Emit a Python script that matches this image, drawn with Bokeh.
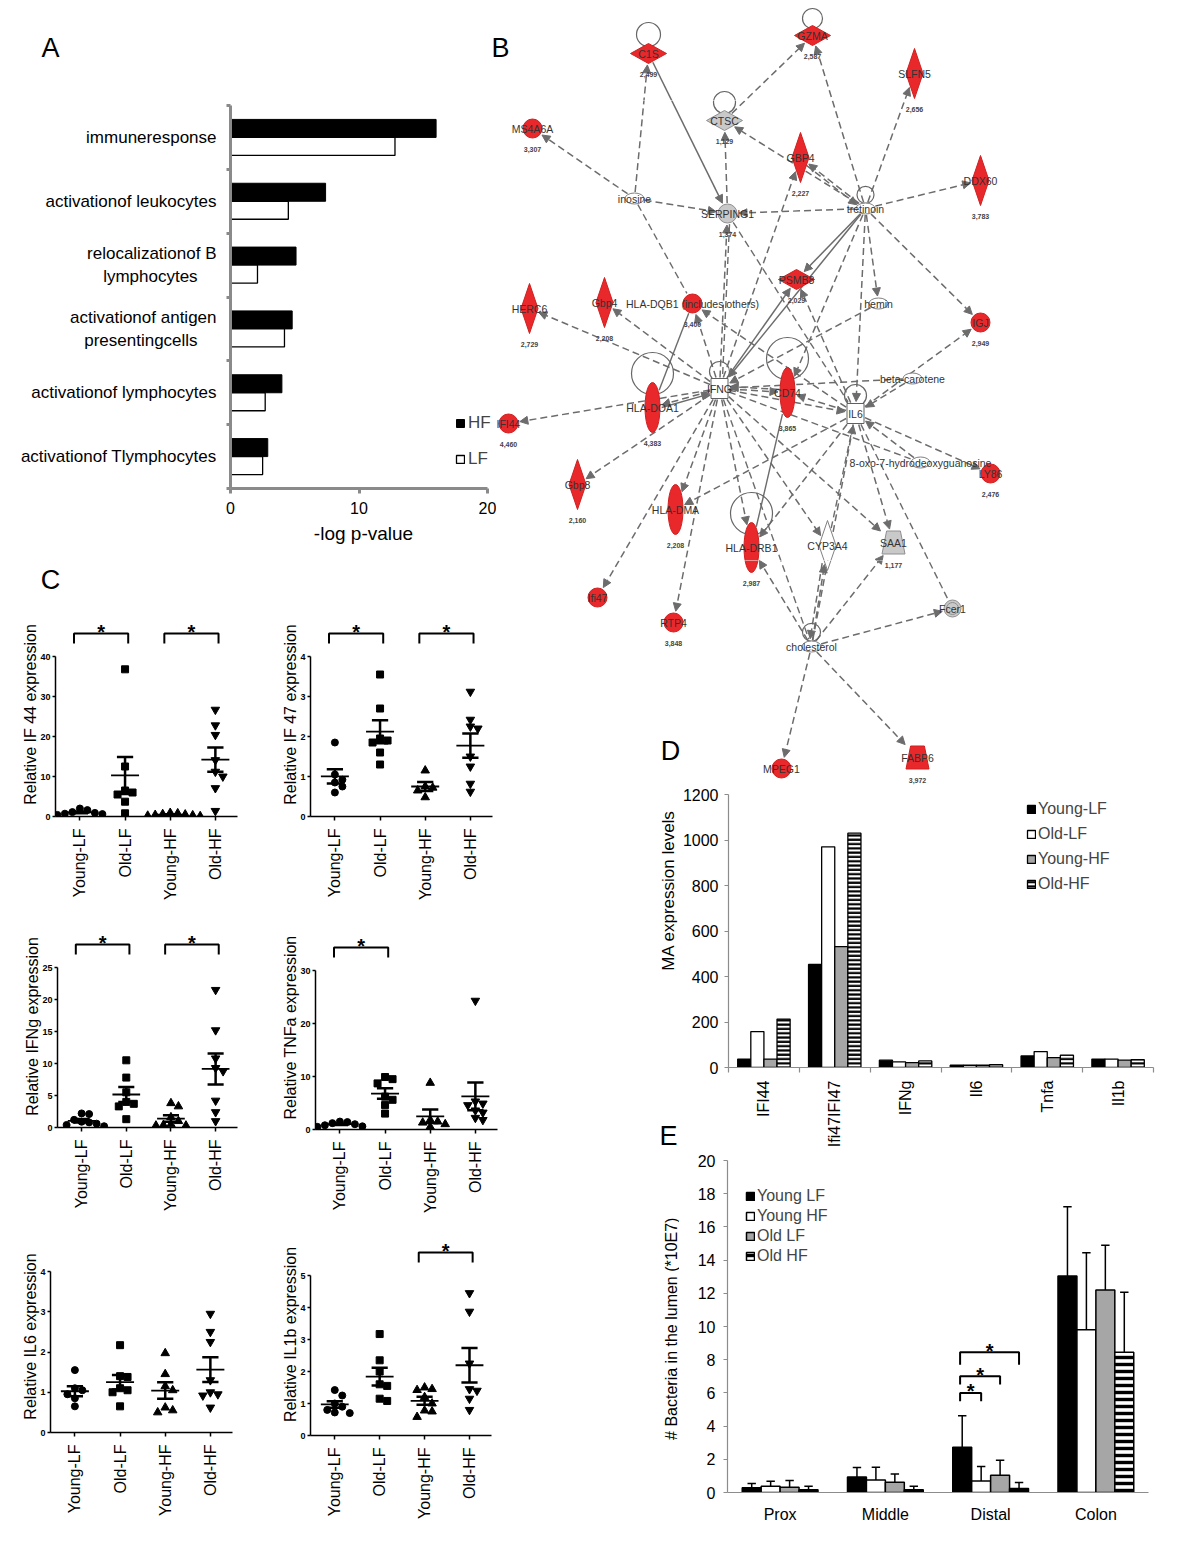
import numpy as np
from math import pi, sqrt
from bokeh.plotting import figure
from bokeh.models import (Range1d, FixedTicker, Legend, LegendItem, Label, Arrow,
                          NormalHead, ColumnDataSource)
from bokeh.layouts import row, column
from bokeh.embed import file_html
from bokeh.resources import INLINE
from bokeh.core.properties import value

FONT = "Liberation Sans"
FV = value(FONT)

# ======================= DATA =======================
# Panel A : enriched functions (-log p-value)
a_terms = ["immuneresponse", "activationof leukocytes",
           "relocalizationof B\nlymphocytes", "activationof antigen\npresentingcells",
           "activationof lymphocytes", "activationof Tlymphocytes"]
a_hf = [16.0, 7.4, 5.1, 4.8, 4.0, 2.9]
a_lf = [12.8, 4.5, 2.1, 4.2, 2.7, 2.5]
a_xticks = [0, 10, 20]

# Panel B : network (names, labels, fold values, node kind)
b_names = ["C1S", "GZMA", "SLFN5", "MS4A6A", "CTSC", "GBP4", "DDX60", "inosine", "SERPING1",
           "tretinoin", "PSMB8", "hemin", "HERC6", "Gbp4", "HLA-DQB1", "IGJ", "beta-carotene",
           "HLA-DOA1", "IFNG", "CD74", "IL6", "IFI44", "Gbp8", "8-oxo", "LY86", "HLA-DMA",
           "HLA-DRB1", "CYP3A4", "SAA1", "Ifi47", "RTP4", "Fcer1", "cholesterol", "MPEG1", "FABP6"]
b_labels = ["C1S", "GZMA", "SLFN5", "MS4A6A", "CTSC", "GBP4", "DDX60", "inosine", "SERPING1",
            "tretinoin", "PSMB8", "hemin", "HERC6", "Gbp4", "HLA-DQB1 (includes others)", "IGJ",
            "beta-carotene", "HLA-DOA1", "IFNG", "CD74", "IL6", "IFI44", "Gbp8",
            "8-oxo-7-hydrodeoxyguanosine", "LY86", "HLA-DMA", "HLA-DRB1", "CYP3A4", "SAA1",
            "Ifi47", "RTP4", "Fcer1", "cholesterol", "MPEG1", "FABP6"]
b_values = ["2,499", "2,587", "2,656", "3,307", "1,129", "2,227", "3,783", "", "1,374",
            "", "2,029", "", "2,729", "2,208", "3,400", "2,949", "",
            "4,383", "", "3,865", "", "4,460", "2,160", "", "2,476", "2,208",
            "2,987", "", "1,177", "", "3,848", "", "", "2,420", "3,972"]
b_kind = ["r", "r", "r", "r", "g", "r", "r", "w", "g",
          "w", "r", "w", "r", "r", "r", "r", "w",
          "r", "w", "r", "w", "r", "r", "w", "r", "r",
          "r", "w", "g", "r", "r", "g", "w", "r", "r"]
b_edges = [("inosine", "C1S", "d"), ("inosine", "MS4A6A", "d"), ("inosine", "SERPING1", "d"),
           ("inosine", "HLA-DQB1", "dn"), ("C1S", "SERPING1", "s"), ("CTSC", "GZMA", "d"),
           ("SERPING1", "CTSC", "d"), ("tretinoin", "GZMA", "d"), ("tretinoin", "SLFN5", "d"),
           ("tretinoin", "DDX60", "d"), ("tretinoin", "CTSC", "d"), ("tretinoin", "GBP4", "d"),
           ("GBP4", "tretinoin", "d"), ("tretinoin", "SERPING1", "d"), ("tretinoin", "PSMB8", "s"),
           ("tretinoin", "IGJ", "d"), ("tretinoin", "hemin", "d"), ("tretinoin", "IL6", "d"),
           ("tretinoin", "IFNG", "s"), ("tretinoin", "CD74", "d"), ("IFNG", "SERPING1", "d"),
           ("SERPING1", "IFNG", "dn"), ("IFNG", "GBP4", "d"), ("IFNG", "PSMB8", "s"),
           ("IFNG", "Gbp4", "d"), ("IFNG", "HERC6", "d"), ("IFNG", "HLA-DQB1", "d"),
           ("HLA-DQB1", "HLA-DOA1", "sn"), ("SERPING1", "IL6", "dn"), ("IL6", "PSMB8", "d"),
           ("hemin", "IFNG", "d"), ("IL6", "HLA-DQB1", "d"), ("IL6", "IGJ", "d"),
           ("beta-carotene", "IL6", "d"), ("beta-carotene", "IFNG", "d"), ("IFNG", "HLA-DOA1", "d"),
           ("HLA-DOA1", "IFNG", "s"), ("IFNG", "IFI44", "d"), ("IFNG", "Gbp8", "d"),
           ("IFNG", "Ifi47", "d"), ("IFNG", "RTP4", "d"), ("IFNG", "HLA-DMA", "d"),
           ("IFNG", "HLA-DRB1", "d"), ("IFNG", "CYP3A4", "d"), ("IFNG", "SAA1", "d"),
           ("IFNG", "CD74", "d"), ("CD74", "IFNG", "d"), ("IFNG", "IL6", "d"),
           ("IL6", "HLA-DMA", "d"), ("IL6", "HLA-DRB1", "d"), ("IL6", "CYP3A4", "dn"),
           ("IL6", "SAA1", "d"), ("IL6", "CD74", "d"), ("IL6", "LY86", "d"), ("8-oxo", "IL6", "d"),
           ("IL6", "Fcer1", "dn"), ("HLA-DRB1", "CD74", "sn"), ("cholesterol", "HLA-DRB1", "d"),
           ("cholesterol", "IL6", "d"), ("cholesterol", "SAA1", "d"), ("cholesterol", "Fcer1", "d"),
           ("cholesterol", "CYP3A4", "d"), ("CYP3A4", "cholesterol", "d"),
           ("cholesterol", "MPEG1", "d"), ("cholesterol", "FABP6", "d"),
           ("IFNG", "cholesterol", "dn"), ("IFNG", "8-oxo", "dn")]
b_selfloops = ["C1S", "GZMA", "CTSC", "tretinoin", "HLA-DOA1", "IFNG", "CD74", "IL6",
               "HLA-DRB1", "cholesterol"]

# Panel C : relative expression, groups Young-LF, Old-LF, Young-HF, Old-HF
c_groups = ["Young-LF", "Old-LF", "Young-HF", "Old-HF"]
c_titles = ["Relative IF 44 expression", "Relative IF 47 expression",
            "Relative IFNg expression", "Relative TNFa expression",
            "Relative IL6 expression", "Relative IL1b expression"]
c_if44 = [[1.6, 0.9, 0.6, 0.4, 1.1, 0.7, 2.0],
          [36.8, 12.5, 6.5, 5.5, 6.0, 3.7, 0.8],
          [0.3, 0.5, 0.2, 0.8, 0.6, 0.4, 0.1, 0.9],
          [26.7, 22.8, 20.4, 14.1, 11.2, 10.0, 7.1, 1.4]]
c_if47 = [[1.85, 1.05, 0.92, 0.85, 0.75, 0.6],
          [3.55, 2.7, 1.95, 1.9, 1.85, 1.6, 1.3],
          [1.15, 0.75, 0.72, 0.65, 0.48],
          [3.12, 2.42, 2.25, 2.2, 1.5, 1.25, 0.82, 0.62]]
c_ifng = [[2.2, 2.1, 1.2, 0.9, 0.6, 0.4, 0.2, 0.8],
          [10.5, 7.8, 5.5, 4.0, 3.7, 3.3, 1.3],
          [3.8, 3.3, 1.6, 1.0, 0.5, 0.3, 0.4, 0.3],
          [21.5, 15.2, 10.8, 9.3, 8.8, 4.2, 2.4, 1.0]]
c_tnfa = [[1.5, 1.2, 1.0, 0.8, 0.6, 0.5, 1.4],
          [9.9, 9.5, 8.7, 6.2, 5.6, 4.6, 3.0],
          [8.8, 1.8, 1.5, 1.3, 1.0, 0.5],
          [24.3, 5.3, 4.9, 4.6, 3.6, 3.2, 2.2, 1.8]]
c_il6 = [[1.55, 1.1, 1.05, 0.95, 0.85, 0.65],
         [2.17, 1.4, 1.38, 1.1, 1.05, 1.0, 0.65],
         [1.97, 1.45, 1.15, 1.05, 0.62, 0.55, 0.5],
         [2.95, 2.5, 2.25, 1.3, 1.0, 0.95, 0.92, 0.62]]
c_il1b = [[1.42, 1.25, 1.0, 0.9, 0.8, 0.72, 0.7],
          [3.17, 2.35, 2.0, 1.6, 1.55, 1.15, 1.08],
          [1.5, 1.45, 1.42, 1.2, 1.0, 0.78, 0.75, 0.58],
          [4.45, 3.87, 2.25, 1.45, 1.4, 1.15, 0.8]]
c_ymax = [40, 4, 25, 30, 4, 5]
c_ystep = [10, 1, 5, 10, 1, 1]
c_sig = [[(0, 1), (2, 3)], [(0, 1), (2, 3)], [(0, 1), (2, 3)], [(0, 1)], [], [(2, 3)]]

# Panel D : microarray expression levels
d_genes = ["IFI44", "Ifi47IFI47", "IFNg", "Il6", "Tnfa", "Il1b"]
d_series = ["Young-LF", "Old-LF", "Young-HF", "Old-HF"]
d_young_lf = [37, 453, 32, 10, 51, 37]
d_old_lf = [158, 970, 25, 10, 70, 37]
d_young_hf = [37, 531, 21, 10, 43, 32]
d_old_hf = [213, 1030, 29, 12, 54, 34]
d_yticks = [0, 200, 400, 600, 800, 1000, 1200]

# Panel E : bacteria in the lumen (*10E7), mean and SD
e_sections = ["Prox", "Middle", "Distal", "Colon"]
e_series = ["Young LF", "Young HF", "Old LF", "Old HF"]
e_young_lf = [0.28, 0.94, 2.73, 13.04]
e_young_lf_err = [0.26, 0.56, 1.90, 4.17]
e_young_hf = [0.38, 0.76, 0.70, 9.81]
e_young_hf_err = [0.30, 0.76, 0.86, 4.63]
e_old_lf = [0.32, 0.62, 1.04, 12.20]
e_old_lf_err = [0.40, 0.50, 0.91, 2.70]
e_old_hf = [0.16, 0.16, 0.24, 8.45]
e_old_hf_err = [0.22, 0.22, 0.36, 3.61]
e_sig_section = 2
e_sig_pairs = [(0, 1), (0, 2), (0, 3)]
e_yticks = [0, 2, 4, 6, 8, 10, 12, 14, 16, 18, 20]


# ======================= HELPERS =======================
def make_fig(w, h, xr, yr, left, right, top, bottom, axes=True):
    kw = dict(width=w, height=h, x_range=xr, y_range=yr, output_backend="svg",
              toolbar_location=None, min_border_left=left, min_border_right=right,
              min_border_top=top, min_border_bottom=bottom)
    if not axes:
        kw.update(x_axis_location=None, y_axis_location=None)
    p = figure(**kw)
    p.grid.visible = False
    p.outline_line_color = None
    p.background_fill_color = "white"
    p.border_fill_color = "white"
    return p


def canvas_fig(x0, x1, y0, y1):
    # figure whose frame is the whole canvas, using page pixel coordinates
    return make_fig(x1 - x0, y1 - y0, Range1d(x0, x1), Range1d(y1, y0), 0, 0, 0, 0, axes=False)


def style_axis(ax, color="black", lw=1.0, size="16px"):
    ax.axis_line_color = color
    ax.axis_line_width = lw
    ax.major_tick_line_color = color
    ax.major_tick_line_width = lw
    ax.minor_tick_line_color = color
    ax.minor_tick_line_width = lw
    ax.major_tick_in = 0
    ax.minor_tick_in = 0
    ax.minor_tick_out = 0
    ax.major_label_text_font = FONT
    ax.major_label_text_font_size = size
    ax.major_label_text_color = "black"
    ax.axis_label_text_font = FONT
    ax.axis_label_text_font_style = "normal"
    ax.axis_label_text_color = "black"


def add_label(p, x, y, t, size="27px", angle=0.0):
    p.add_layout(Label(x=x, y=y, text=t, text_font=FONT, text_font_size=size, angle=angle,
                       text_align="center", text_baseline="middle", text_color="black"))


def swarm(ypx, d):
    order = np.argsort(-ypx)
    placed = []
    offs = np.zeros(len(ypx))
    for i in order:
        k = 0
        while True:
            cand = 0.0 if k == 0 else ((k + 1) // 2) * d * (1 if k % 2 else -1)
            if all((cand - px) ** 2 + (ypx[i] - py) ** 2 >= 0.8 * d * d for px, py in placed):
                break
            k += 1
        placed.append((cand, ypx[i]))
        offs[i] = cand
    return offs


def box(p):
    return column(p)


# ======================= PANEL A =======================
# page geometry: frame x 230..(487 = value 20), y 105..488 ; figure at (0,100), 496x460
ppx_a = (487 - 230) / 20.0
ppy_a = (488 - 105) / 6.0
pA = make_fig(496, 460, Range1d(0, 20 + 9 / ppx_a), Range1d(0, 6), 230, 0, 5, 72)
yc = [len(a_terms) - 0.5 - i for i in range(len(a_terms))]
bh = 18.0 / ppy_a
r_hf = pA.hbar(y=[c + bh / 2 for c in yc], left=0, right=a_hf, height=bh,
               fill_color="black", line_color="black", line_width=1)
r_lf = pA.hbar(y=[c - bh / 2 for c in yc], left=0, right=a_lf, height=bh,
               fill_color="white", line_color="black", line_width=1.3)
xa = pA.xaxis[0]
style_axis(xa, "#8a8a8a", 3, "16px")
xa.ticker = FixedTicker(ticks=a_xticks)
xa.bounds = (0, 20)
xa.major_tick_out = 5
xa.major_label_standoff = 8
xa.axis_label = "-log p-value"
xa.axis_label_text_font_size = "19px"
xa.axis_label_standoff = 6
ya = pA.yaxis[0]
style_axis(ya, "#8a8a8a", 3, "17px")
ya.ticker = FixedTicker(ticks=yc, minor_ticks=list(range(len(a_terms) + 1)))
ya.major_tick_out = 0
ya.minor_tick_out = 4
ya.major_label_standoff = 10
ov = {}
for c, t in zip(yc, a_terms):
    if "\n" in t:
        l1, l2 = t.split("\n")
        t = l1 + "\n" + l2 + "\u00a0" * 4
    ov[c] = t
ya.major_label_overrides = ov
legA = Legend(items=[LegendItem(label="HF", renderers=[r_hf]),
                     LegendItem(label="LF", renderers=[r_lf])],
              location=(225, 19), glyph_width=10, glyph_height=10, label_text_font=FONT,
              label_text_font_size="17px", spacing=16, padding=0, margin=0, label_standoff=3,
              background_fill_alpha=0, border_line_alpha=0)
pA.add_layout(legA)

# ======================= PANEL B =======================
node_x = [648, 812, 914, 532, 724, 800, 980, 634, 727, 865, 796, 878, 529, 604, 692, 980, 912,
          652, 719, 787, 855, 508, 577, 920, 990, 675, 751, 827, 893, 597, 673, 952, 811, 781, 917]
node_y = [53, 35, 73, 128, 120, 157, 180, 198, 213, 208, 279, 303, 308, 302, 303, 322, 378,
          407, 388, 392, 413, 423, 484, 462, 473, 509, 547, 545, 542, 597, 622, 608, 646, 768, 757]
node_shape = ["dw", "dw", "dt", "c", "dw", "dt", "dt", "ov", "c",
              "ov", "dw", "ov", "dt", "dt", "c", "c", "ov",
              "e", "sq", "e", "sq", "c", "dt", "ov", "c", "e",
              "e", "dt", "tz", "c", "c", "c2", "ov", "c", "tz"]
SHAPE_SIZE = {"dw": (18, 10), "dt": (8.5, 25), "c": (9.5, 9.5), "c2": (8.5, 8.5),
              "e": (7.5, 25), "sq": (8.5, 10), "ov": (9.5, 5.5), "tz": (11.5, 11.5)}
LOOP_R = {"C1S": 12, "GZMA": 10, "CTSC": 11, "tretinoin": 8.5, "HLA-DOA1": 21, "IFNG": 10,
          "CD74": 21, "IL6": 11, "HLA-DRB1": 21, "cholesterol": 9}
FILL = {"r": "#e8282b", "g": "#c9c9c9", "w": "white"}
LINE = {"r": "#cf2020", "g": "#8f8f8f", "w": "#808080"}
EC = "#6c6c6c"


def bdist(shape, ux, uy):
    hw, hh = SHAPE_SIZE[shape]
    ax_, ay_ = abs(ux) + 1e-9, abs(uy) + 1e-9
    if shape in ("c", "e", "c2", "ov"):
        return 1.0 / sqrt((ax_ / hw) ** 2 + (ay_ / hh) ** 2)
    if shape in ("dw", "dt"):
        return 1.0 / (ax_ / hw + ay_ / hh)
    return 1.0 / max(ax_ / hw, ay_ / hh)


def draw_network(p, x0r, x1r, y0r, y1r):
    idx = {n: i for i, n in enumerate(b_names)}
    pair_count = {}
    groups = {"d": ([], [], [], []), "s": ([], [], [], []), "dn": ([], [], [], []), "sn": ([], [], [], [])}
    for a, b, st in b_edges:
        i, j = idx[a], idx[b]
        key = tuple(sorted((a, b)))
        n = pair_count.get(key, 0)
        pair_count[key] = n + 1
        xa0, ya0, xa1, ya1 = node_x[i], node_y[i], node_x[j], node_y[j]
        L = sqrt((xa1 - xa0) ** 2 + (ya1 - ya0) ** 2)
        ux, uy = (xa1 - xa0) / L, (ya1 - ya0) / L
        off = 0.0 if n == 0 else (2.5 if n % 2 else -2.5)
        if a > b:
            off = -off
        ox, oy = -uy * off, ux * off
        d0 = bdist(node_shape[i], ux, uy) + 1
        d1 = bdist(node_shape[j], ux, uy) + 2
        g = groups[st]
        g[0].append(xa0 + ux * d0 + ox)
        g[1].append(ya0 + uy * d0 + oy)
        g[2].append(xa1 - ux * d1 + ox)
        g[3].append(ya1 - uy * d1 + oy)
    for st, dash in (("d", "7 4"), ("s", "solid")):
        g = groups[st]
        src = ColumnDataSource(dict(x0=g[0], y0=g[1], x1=g[2], y1=g[3]))
        p.add_layout(Arrow(x_start="x0", y_start="y0", x_end="x1", y_end="y1", source=src,
                           line_color=EC, line_width=1.5, line_dash=dash, level="underlay",
                           end=NormalHead(size=8, fill_color=EC, line_color=EC, line_width=1)))
    for st, dash in (("dn", "7 4"), ("sn", "solid")):
        g = groups[st]
        p.segment(x0=g[0], y0=g[1], x1=g[2], y1=g[3], line_color=EC, line_width=1.4,
                  line_dash=dash, level="underlay")
    lx, ly, lr = [], [], []
    for n in b_selfloops:
        i = idx[n]
        r = LOOP_R[n]
        hh = SHAPE_SIZE[node_shape[i]][1]
        lx.append(node_x[i])
        ly.append(node_y[i] - (r + 0.4 * hh + 3))
        lr.append(2 * r)
    p.ellipse(x=lx, y=ly, width=lr, height=lr, fill_color=None, line_color="#666666", line_width=1.2)
    for shp in ("c", "e", "c2", "ov"):
        ii = [i for i, s in enumerate(node_shape) if s == shp]
        hw, hh = SHAPE_SIZE[shp]
        p.ellipse(x=[node_x[i] for i in ii], y=[node_y[i] for i in ii], width=2 * hw, height=2 * hh,
                  fill_color=[FILL[b_kind[i]] for i in ii], line_color=[LINE[b_kind[i]] for i in ii],
                  line_width=1)
        if shp == "c2":
            p.ellipse(x=[node_x[i] for i in ii], y=[node_y[i] for i in ii], width=2 * hw - 5,
                      height=2 * hh - 5, fill_color=None, line_color="#8f8f8f", line_width=1)
    for shp in ("dw", "dt"):
        ii = [i for i, s in enumerate(node_shape) if s == shp]
        hw, hh = SHAPE_SIZE[shp]
        xs = [[node_x[i] - hw, node_x[i], node_x[i] + hw, node_x[i]] for i in ii]
        ys = [[node_y[i], node_y[i] - hh, node_y[i], node_y[i] + hh] for i in ii]
        p.patches(xs, ys, fill_color=[FILL[b_kind[i]] for i in ii],
                  line_color=[LINE[b_kind[i]] for i in ii], line_width=1)
    ii = [i for i, s in enumerate(node_shape) if s == "sq"]
    hw, hh = SHAPE_SIZE["sq"]
    p.rect(x=[node_x[i] for i in ii], y=[node_y[i] for i in ii], width=2 * hw, height=2 * hh,
           fill_color="white", line_color="#606060", line_width=1)
    ii = [i for i, s in enumerate(node_shape) if s == "tz"]
    hw, hh = SHAPE_SIZE["tz"]
    xs = [[node_x[i] - 0.6 * hw, node_x[i] + 0.6 * hw, node_x[i] + hw, node_x[i] - hw] for i in ii]
    ys = [[node_y[i] - hh, node_y[i] - hh, node_y[i] + hh, node_y[i] + hh] for i in ii]
    p.patches(xs, ys, fill_color=[FILL[b_kind[i]] for i in ii],
              line_color=[LINE[b_kind[i]] for i in ii], line_width=1)
    # texts only where they belong to this canvas
    inside = lambda x, y: x0r <= x < x1r and y0r <= y < y1r
    li = [i for i in range(len(b_names)) if inside(node_x[i], node_y[i])]
    if li:
        p.text(x=[node_x[i] for i in li], y=[node_y[i] for i in li], text=[b_labels[i] for i in li],
               text_align="center", text_baseline="middle", text_font=FV,
               text_font_size="10.5px", text_color="#333333")
    vi = [i for i, v in enumerate(b_values)
          if v and inside(node_x[i], node_y[i] + SHAPE_SIZE[node_shape[i]][1] + 11)]
    if vi:
        p.text(x=[node_x[i] for i in vi],
               y=[node_y[i] + SHAPE_SIZE[node_shape[i]][1] + 11 for i in vi],
               text=[b_values[i] for i in vi], text_align="center", text_baseline="middle",
               text_font=FV, text_font_size="7px", text_font_style="bold", text_color="#444444")


pTop = canvas_fig(0, 1196, 0, 100)
draw_network(pTop, 0, 1196, 0, 100)
add_label(pTop, 50, 47, "A")
add_label(pTop, 500, 47, "B")
pB1 = canvas_fig(496, 1196, 100, 560)
draw_network(pB1, 496, 1196, 100, 560)
pB2 = canvas_fig(500, 1196, 560, 785)
draw_network(pB2, 500, 1196, 560, 785)
add_label(pB2, 670, 750, "D")
pCs = canvas_fig(0, 500, 560, 605)
add_label(pCs, 50, 579, "C")

# ======================= PANEL C =======================
c_data = [c_if44, c_if47, c_ifng, c_tnfa, c_il6, c_il1b]
c_markers = ["circle", "square", "triangle", "inverted_triangle"]
c_msize = [7, 7, 8.5, 8.5]
# (fig x0, fig y0, w, h, frame left, frame right, frame top, y(0) px, y(top tick) px)
c_geom = [(0, 605, 262, 315, 55, 237, 612, 816, 656),
          (262, 605, 238, 315, 310, 492, 612, 816, 656),
          (0, 920, 262, 312, 57, 237, 925, 1127, 967),
          (262, 920, 238, 312, 315, 497, 925, 1129, 970),
          (0, 1232, 262, 314, 50, 232, 1240, 1432, 1271),
          (262, 1232, 238, 314, 310, 491, 1233, 1435, 1275)]


def c_plot(k):
    gx0, gy0, w, h, fl, fr, ftop, y0px, ytpx = c_geom[k]
    T = c_ymax[k]
    ppy = (y0px - ytpx) / float(T)
    yend = T + (ytpx - ftop) / ppy
    xs0, xs1 = 0.46, 4.49
    ppx = (fr - fl) / (xs1 - xs0)
    p = make_fig(w, h, Range1d(xs0, xs1), Range1d(0, yend), fl - gx0, gx0 + w - fr,
                 ftop - gy0, gy0 + h - y0px)
    for g, vals in enumerate(c_data[k]):
        v = np.array(vals, dtype=float)
        offs = swarm(v * ppy, 7.5) / ppx
        p.scatter(x=g + 1 + offs, y=v, marker=c_markers[g], size=c_msize[g],
                  fill_color="black", line_color="black")
        m = float(v.mean())
        se = float(v.std(ddof=1) / sqrt(len(v)))
        p.segment(x0=[g + 1 - 0.31], y0=[m], x1=[g + 1 + 0.31], y1=[m],
                  line_color="black", line_width=1.8)
        p.segment(x0=[g + 1 - 0.18, g + 1 - 0.18, g + 1], y0=[m - se, m + se, m - se],
                  x1=[g + 1 + 0.18, g + 1 + 0.18, g + 1], y1=[m - se, m + se, m + se],
                  line_color="black", line_width=2.5)
    yb = T + 23.0 / ppy
    leg = 10.0 / ppy
    for a, b in c_sig[k]:
        x1_, x2_ = a + 1 - 0.13, b + 1 + 0.07
        p.line(x=[x1_, x1_, x2_, x2_], y=[yb - leg, yb, yb, yb - leg], line_color="black",
               line_width=2)
        p.text(x=[(x1_ + x2_) / 2], y=[yb + 1.5 / ppy], text=["*"], text_align="center",
               text_baseline="alphabetic", text_font=FV, text_font_size="20px",
               text_font_style="bold", text_color="black")
    ya_ = p.yaxis[0]
    style_axis(ya_, "black", 1.5, "9px")
    ya_.ticker = FixedTicker(ticks=list(range(0, T + 1, c_ystep[k])))
    ya_.bounds = (0, T)
    ya_.major_tick_out = 3
    ya_.major_label_standoff = 2
    ya_.major_label_text_font_style = "bold"
    ya_.axis_label = c_titles[k]
    ya_.axis_label_text_font_size = "16px"
    ya_.axis_label_standoff = -2
    xa_ = p.xaxis[0]
    style_axis(xa_, "black", 1.5, "16px")
    xa_.ticker = FixedTicker(ticks=[1, 2, 3, 4])
    xa_.major_label_overrides = {i + 1: c_groups[i] for i in range(4)}
    xa_.major_label_orientation = pi / 2
    xa_.major_tick_out = 4
    xa_.major_label_standoff = 8
    return p


cp = [c_plot(k) for k in range(6)]

# ======================= PANEL D =======================
# frame x 727..1153, y 794(1200)..1067(0) ; figure at (679,785) 517x365
pD = make_fig(517, 365, Range1d(0, 6), Range1d(0, 1200), 48, 43, 9, 83)
d_offs = [-0.2775, -0.0925, 0.0925, 0.2775]
d_bw = 0.185
d_styles = [dict(fill_color="black", line_color="black"),
            dict(fill_color="white", line_color="black"),
            dict(fill_color="#a6a6a6", line_color="black"),
            dict(fill_color="white", line_color="black", hatch_pattern="horizontal_line",
                 hatch_color="black", hatch_weight=2.2, hatch_scale=4.3)]
d_rend = []
for j, vals in enumerate([d_young_lf, d_old_lf, d_young_hf, d_old_hf]):
    r = pD.vbar(x=[i + 0.5 + d_offs[j] for i in range(len(d_genes))], bottom=0, top=vals,
                width=d_bw, line_width=1.3, **d_styles[j])
    d_rend.append(r)
ya = pD.yaxis[0]
style_axis(ya, "#8c8c8c", 1.2, "16px")
ya.ticker = FixedTicker(ticks=d_yticks)
ya.major_tick_out = 4
ya.major_label_standoff = 6
xa = pD.xaxis[0]
style_axis(xa, "#8c8c8c", 1.2, "16px")
xa.ticker = FixedTicker(ticks=[i + 0.5 for i in range(len(d_genes))],
                        minor_ticks=list(range(len(d_genes) + 1)))
xa.major_tick_out = 0
xa.minor_tick_out = 5
xa.major_label_overrides = {i + 0.5: g for i, g in enumerate(d_genes)}
xa.major_label_orientation = pi / 2
xa.major_label_standoff = 8
legD = Legend(items=[LegendItem(label=s, renderers=[r]) for s, r in zip(d_series, d_rend)],
              location=(298, 174), glyph_width=10, glyph_height=10, label_text_font=FONT,
              label_text_font_size="16px", spacing=7, padding=0, margin=0, label_standoff=2,
              background_fill_alpha=0, border_line_alpha=0)
pD.add_layout(legD)

# ======================= PANEL E =======================
# frame x 727..1148, y 1160(20)..1492(0) ; figure at (679,1150) 517x396
pE = make_fig(517, 396, Range1d(0, 4), Range1d(0, 20), 48, 48, 10, 54)
ppy_e = (1492 - 1160) / 20.0
e_offs = [-0.27, -0.09, 0.09, 0.27]
e_bw = 0.18
e_styles = [dict(fill_color="black", line_color="black"),
            dict(fill_color="white", line_color="black"),
            dict(fill_color="#a6a6a6", line_color="black"),
            dict(fill_color="white", line_color="black", hatch_pattern="horizontal_line",
                 hatch_color="black", hatch_weight=3.4, hatch_scale=7)]
e_vals = [e_young_lf, e_young_hf, e_old_lf, e_old_hf]
e_errs = [e_young_lf_err, e_young_hf_err, e_old_lf_err, e_old_hf_err]
e_rend = []
for j in range(4):
    xs = [i + 0.5 + e_offs[j] for i in range(len(e_sections))]
    r = pE.vbar(x=xs, bottom=0, top=e_vals[j], width=e_bw, line_width=1.5, **e_styles[j])
    e_rend.append(r)
    tops = [v + e for v, e in zip(e_vals[j], e_errs[j])]
    pE.segment(x0=xs, y0=e_vals[j], x1=xs, y1=tops, line_color="black", line_width=1.5)
    pE.segment(x0=[x - 0.04 for x in xs], y0=tops, x1=[x + 0.04 for x in xs], y1=tops,
               line_color="black", line_width=1.5)
levels = [6.0, 7.0, 8.45]
for (a, b), lv in zip(e_sig_pairs, levels):
    xa_ = e_sig_section + 0.5 + e_offs[a] - 0.02
    xb_ = e_sig_section + 0.5 + e_offs[b]
    legh = 0.5 if lv < 8 else 0.75
    pE.line(x=[xa_, xa_, xb_, xb_], y=[lv - legh, lv, lv, lv - legh], line_color="black",
            line_width=2)
    pE.text(x=[(xa_ + xb_) / 2], y=[lv + 1.5 / ppy_e], text=["*"], text_align="center",
            text_baseline="alphabetic", text_font=FV, text_font_size="20px",
            text_font_style="bold", text_color="black")
ya = pE.yaxis[0]
style_axis(ya, "#8c8c8c", 1.2, "16px")
ya.ticker = FixedTicker(ticks=e_yticks)
ya.major_tick_out = 4
ya.major_label_standoff = 8
xa = pE.xaxis[0]
style_axis(xa, "#8c8c8c", 1.2, "16px")
xa.ticker = FixedTicker(ticks=[i + 0.5 for i in range(len(e_sections))])
xa.major_tick_out = 0
xa.major_label_overrides = {i + 0.5: s for i, s in enumerate(e_sections)}
xa.major_label_standoff = 13
legE = Legend(items=[LegendItem(label=s, renderers=[r]) for s, r in zip(e_series, e_rend)],
              location=(18, 227), glyph_width=10, glyph_height=10, label_text_font=FONT,
              label_text_font_size="16px", spacing=2, padding=0, margin=0, label_standoff=2,
              background_fill_alpha=0, border_line_alpha=0)
pE.add_layout(legE)

# strip left of D and E holding their y titles and the panel letter E
pS = canvas_fig(500, 679, 785, 1546)
add_label(pS, 668, 890, "MA expression levels", size="17px", angle=pi / 2)
add_label(pS, 668, 1135, "E")
add_label(pS, 671, 1326, "# Bacteria  in the lumen (*10E7)", size="16px", angle=pi / 2)

# ======================= LAYOUT =======================
top_row = row(box(pA), box(pB1))
left_col = column(box(pCs), row(box(cp[0]), box(cp[1])), row(box(cp[2]), box(cp[3])),
                  row(box(cp[4]), box(cp[5])))
right_col = column(box(pB2), row(box(pS), column(box(pD), box(pE))))
layout = column(box(pTop), top_row, row(left_col, right_col))

open("out.html", "w").write(file_html(layout, INLINE))
